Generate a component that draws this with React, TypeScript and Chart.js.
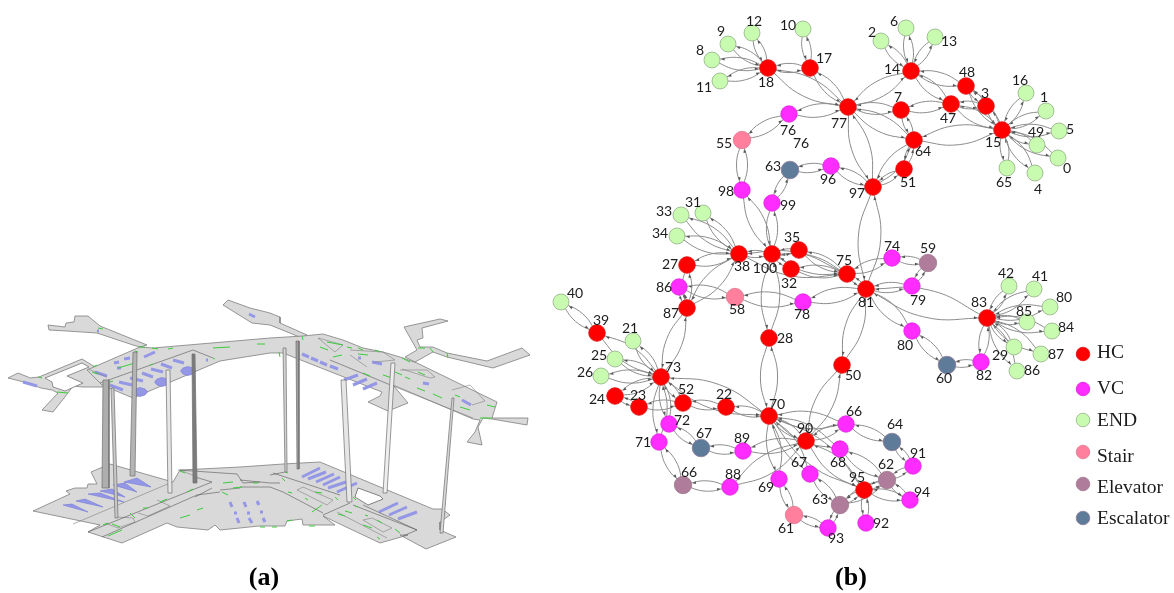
import React, { useEffect, useRef } from "react";
import { Chart, registerables } from "chart.js";

Chart.register(...registerables);

type P = [number, number];
type N = [string, number, number];

// ---------- network (b): nodes [key, x, y] ----------
const hcNodes: N[] = [
  ["18", 768, 68], ["17", 810, 68], ["77", 848, 107], ["14", 911, 71], ["48", 966, 86], ["7", 901, 110],
  ["47", 951, 104], ["3", 986, 106], ["15", 1002, 130], ["64", 914, 140], ["51", 904, 169], ["97", 873, 187],
  ["38", 739, 254], ["100", 772, 254], ["35", 799, 250], ["32", 791, 269], ["75", 847, 274], ["27", 687, 265],
  ["87", 687, 308], ["81", 866, 289], ["83", 987, 318], ["28", 769, 338], ["50", 842, 365], ["39", 597, 333],
  ["73", 661, 377], ["24", 615, 396], ["23", 639, 407], ["52", 683, 403], ["22", 726, 407], ["70", 769, 416],
  ["90", 806, 441], ["95", 864, 490],
];
const vcNodes: N[] = [
  ["76", 789, 114], ["96", 831, 166], ["98", 742, 190], ["99", 772, 203], ["86", 679, 287], ["78", 803, 302],
  ["74", 892, 258], ["79", 912, 286], ["80", 912, 331], ["82", 981, 362], ["72", 669, 424], ["71", 659, 442],
  ["89", 743, 451], ["66", 846, 424], ["68", 840, 449], ["88", 730, 487], ["69", 779, 479], ["67", 810, 474],
  ["93", 828, 528], ["92", 866, 523], ["94", 910, 500], ["91", 913, 466],
];
const endNodes: N[] = [
  ["e9", 728, 44], ["e12", 752, 33], ["e10", 803, 29], ["e8", 712, 60], ["e11", 720, 81], ["e33", 681, 215],
  ["e31", 703, 213], ["e34", 677, 236], ["e2", 881, 41], ["e6", 906, 28], ["e13", 935, 37], ["e16", 1026, 93],
  ["e1", 1046, 111], ["e5", 1059, 131], ["e49", 1037, 145], ["e0", 1058, 158], ["e4", 1035, 173], ["e65", 1007, 168],
  ["e40", 561, 302], ["e21", 633, 341], ["e25", 615, 359], ["e26", 601, 376], ["e42", 1009, 286], ["e41", 1034, 289],
  ["e80", 1050, 307], ["e85", 1027, 322], ["e84", 1052, 331], ["e29", 1014, 347], ["e87", 1041, 354], ["e86", 1017, 371],
];
const stairNodes: N[] = [["55", 742, 140], ["58", 735, 297], ["61", 794, 515]];
const elevatorNodes: N[] = [["59", 928, 263], ["a66", 683, 485], ["62", 887, 480], ["63", 840, 505]];
const escalatorNodes: N[] = [["s63", 790, 170], ["s67", 701, 448], ["60", 947, 365], ["s64", 892, 442]];

const nodeEdges: [string, string][] = [
  ["18", "e9"], ["18", "e12"], ["18", "e8"], ["18", "e11"], ["18", "17"], ["17", "e10"], ["18", "77"], ["17", "77"],
  ["77", "76"], ["76", "55"], ["55", "98"], ["98", "100"], ["s63", "96"], ["s63", "99"], ["96", "97"], ["99", "100"],
  ["77", "97"], ["77", "14"], ["77", "7"], ["77", "64"], ["14", "e2"], ["14", "e6"], ["14", "e13"], ["14", "48"],
  ["14", "47"], ["7", "47"], ["7", "64"], ["47", "3"], ["47", "15"], ["48", "3"], ["48", "15"], ["3", "15"], ["64", "15"],
  ["64", "51"], ["64", "97"], ["51", "97"], ["15", "e16"], ["15", "e1"], ["15", "e5"], ["15", "e49"], ["15", "e0"],
  ["15", "e4"], ["15", "e65"], ["38", "e31"], ["38", "e33"], ["38", "e34"], ["38", "27"], ["38", "100"], ["38", "87"],
  ["27", "87"], ["38", "75"], ["100", "35"], ["100", "32"], ["100", "28"], ["35", "75"], ["32", "75"], ["100", "75"],
  ["75", "81"], ["75", "74"], ["74", "59"], ["59", "79"], ["79", "81"], ["81", "78"], ["78", "58"], ["58", "86"],
  ["86", "87"], ["87", "73"], ["81", "97"], ["81", "83"], ["81", "80"], ["80", "60"], ["60", "82"], ["82", "83"],
  ["83", "e42"], ["83", "e41"], ["83", "e80"], ["83", "e85"], ["83", "e84"], ["83", "e29"], ["83", "e87"], ["83", "e86"],
  ["28", "70"], ["81", "50"], ["50", "90"], ["e40", "39"], ["39", "73"], ["e21", "73"], ["e25", "73"], ["e26", "73"],
  ["24", "73"], ["24", "23"], ["23", "52"], ["52", "73"], ["52", "22"], ["22", "70"], ["73", "70"], ["73", "72"],
  ["73", "71"], ["72", "s67"], ["s67", "89"], ["89", "90"], ["88", "90"], ["a66", "88"], ["71", "a66"], ["70", "66"],
  ["70", "90"], ["70", "68"], ["70", "69"], ["70", "67"], ["70", "95"], ["90", "66"], ["90", "95"], ["66", "s64"],
  ["s64", "91"], ["91", "62"], ["62", "94"], ["94", "95"], ["95", "92"], ["95", "62"], ["63", "67"], ["63", "62"],
  ["63", "93"], ["63", "95"], ["61", "69"], ["61", "93"], ["68", "62"],
];

const nodeLabels: [string, number, number][] = [
  ["12", 754, 21], ["9", 721, 31], ["8", 700, 50], ["11", 704, 87], ["18", 766, 82], ["10", 788, 25], ["17", 824, 58],
  ["76", 788, 130], ["76", 801, 143], ["77", 839, 123], ["55", 724, 143], ["63", 773, 166], ["96", 828, 179], ["98", 726, 191],
  ["99", 788, 205], ["97", 857, 193], ["31", 693, 202], ["33", 664, 211], ["34", 660, 233], ["35", 792, 237], ["27", 670, 264],
  ["38", 742, 266], ["100", 765, 268], ["32", 789, 283], ["75", 844, 260], ["86", 664, 287], ["6", 894, 21], ["2", 872, 32],
  ["13", 949, 41], ["14", 892, 69], ["48", 967, 72], ["16", 1020, 80], ["1", 1044, 97], ["3", 985, 93], ["7", 898, 97],
  ["47", 948, 118], ["5", 1070, 129], ["49", 1036, 132], ["15", 993, 142], ["64", 923, 151], ["0", 1067, 168], ["51", 908, 182],
  ["65", 1004, 182], ["4", 1038, 189], ["74", 892, 246], ["59", 928, 248], ["42", 1006, 273], ["41", 1040, 276], ["40", 575, 293],
  ["39", 601, 320], ["21", 630, 328], ["25", 599, 355], ["26", 585, 372], ["73", 673, 367], ["52", 686, 389], ["23", 638, 395],
  ["24", 597, 399], ["22", 724, 394], ["70", 777, 404], ["72", 682, 420], ["71", 643, 442], ["67", 704, 433], ["89", 742, 438],
  ["90", 805, 428], ["66", 689, 472], ["88", 733, 474], ["66", 854, 411], ["68", 838, 462], ["67", 799, 462], ["69", 766, 487],
  ["63", 820, 499], ["61", 786, 528], ["93", 836, 538], ["58", 737, 309], ["78", 802, 314], ["87", 671, 313], ["28", 785, 338],
  ["50", 853, 375], ["81", 866, 302], ["79", 918, 300], ["80", 905, 345], ["60", 944, 378], ["82", 984, 375], ["83", 979, 302],
  ["85", 1024, 311], ["80", 1064, 297], ["84", 1066, 327], ["29", 1000, 355], ["87", 1056, 354], ["86", 1032, 370],
  ["64", 895, 424], ["91", 918, 453], ["62", 886, 464], ["95", 857, 477], ["94", 922, 492], ["92", 881, 523],
];

const legendNames = ["HC", "VC", "END", "Stair", "Elevator", "Escalator"];
const legendMarkY = [354, 389, 420, 452, 484, 518];
const legendTextY = [353, 389, 421, 457, 488, 519];
const legendColors = ["#ff0000", "#ff2cff", "#c8fbb0", "#ff7f9c", "#b07c9b", "#5f7b9a"];
const legendBorders = ["#e01010", "#e020e0", "#93b088", "#e07a92", "#a07890", "#8a7a96"];

const captions: [string, number, number][] = [["(a)", 264, 578], ["(b)", 851, 578]];

// ---------- floor plan (a) ----------
const upperWingA: P[] = [[48,325],[65,327],[66,323],[74,322],[75,316],[88,316],[100,326],[147,345],[140,347],[133,345],[97,333],[67,331],[49,330]];
const upperWingB: P[] = [[8,378],[18,373],[28,377],[30,378],[39,377],[82,359],[95,367],[107,372],[110,385],[103,387],[83,387],[73,386],[68,393],[53,412],[42,410],[58,393],[52,390],[41,388],[28,383]];
const upperHoleB: P[] = [[45,378],[82,363],[89,367],[67,376],[83,383],[65,391],[53,387],[52,382]];
const upperWingC: P[] = [[223,305],[228,300],[250,308],[270,313],[280,317],[280,323],[307,335],[302,338],[270,325],[252,323]];
const upperWingD: P[] = [[404,327],[440,319],[448,321],[422,328],[423,338],[417,340],[420,347],[433,347],[447,353],[487,361],[522,348],[530,355],[493,368],[447,357],[433,352],[415,362],[405,357],[417,350]];
const upperMain: P[] = [[102,385],[87,370],[140,347],[153,348],[270,338],[303,336],[323,334],[343,340],[363,348],[383,352],[400,357],[417,363],[497,402],[492,418],[528,418],[527,425],[492,419],[483,418],[478,427],[482,445],[467,442],[475,432],[480,420],[473,419],[393,385],[408,403],[388,411],[368,402],[380,396],[382,392],[283,353],[270,353],[220,361],[133,398]];
const lowerMain: P[] = [[33,511],[70,494],[66,491],[75,488],[87,488],[88,484],[97,484],[91,472],[110,464],[173,482],[180,470],[240,467],[283,464],[320,462],[433,509],[442,509],[450,515],[440,522],[440,530],[456,537],[426,549],[400,535],[408,535],[380,543],[323,516],[335,525],[303,525],[302,519],[287,521],[285,526],[259,526],[240,528],[220,530],[215,525],[208,530],[177,527],[167,523],[122,543],[88,532],[100,525]];
const lowerHole: P[] = [[358,488],[380,496],[383,499],[368,505],[355,497]];
const shafts: P[][] = [
  [[103,380],[109,380],[109,488],[102,488]], [[111,388],[114,388],[118,518],[115,518]],
  [[133,352],[137,352],[135,476],[130,476]], [[166,370],[170,370],[172,493],[168,493]],
  [[192,354],[195,354],[197,483],[193,483]], [[283,348],[286,348],[287,472],[285,472]],
  [[296,341],[299,341],[299,469],[297,469]], [[341,380],[346,380],[352,502],[347,502]],
  [[391,363],[395,363],[387,493],[383,493]], [[452,398],[454,398],[443,533],[440,533]],
];
const shaftFills = ["#aeaeae", "#c8c8c8", "#b4b4b4", "#e6e6e6", "#7c7c7c", "#d2d2d2", "#a0a0a0", "#e6e6e6", "#eeeeee", "#d8d8d8"];
const blueWedges: P[][] = [
  [[63,505],[72,504],[88,512]], [[76,501],[85,499],[103,507]], [[88,494],[100,493],[124,502]],
  [[100,491],[112,489],[125,497]], [[113,485],[125,483],[137,492]], [[124,482],[137,478],[151,487]],
  [[132.5,392],[135,389],[140,387.5],[145,389],[147.5,392],[145,395],[140,396.5],[135,395]],
  [[154.5,382],[157,379],[162,377.5],[167,379],[169.5,382],[167,385],[162,386.5],[157,385]],
  [[180.5,371],[183,368],[188,366.5],[193,368],[195.5,371],[193,374],[188,375.5],[183,374]],
];
const blueBars: (P | null)[] = [
  [23,382],[37,386],null,[95,372],[107,376],null,[110,385],[123,390],null,[119,382],[132,385],null,[130,378],[143,381],null,
  [142,373],[153,377],null,[151,369],[163,372],null,[161,364],[172,368],null,[173,360],[184,363],null,[144,357],[155,352],null,
  [114,363],[119,362],null,[124,359],[130,358],null,[97,331],[99,331],null,[249,314],[255,317],null,[206,360],[208,360],null,
  [117,368],[121,368],null,[302,354],[309,357],null,[311,358],[318,361],null,[320,362],[327,365],null,[330,366],[338,369],null,
  [372,362],[382,364],null,[344,380],[358,375],null,[353,385],[367,379],null,[363,389],[377,383],null,[423,383],[429,384],null,
  [462,400],[471,405],null,[358,358],[361,358],null,
  [230,502],[232,507],null,[244,502],[246,507],null,[257,501],[259,505],null,[234,513],[237,513],null,[247,513],[250,513],null,
  [260,512],[263,512],null,[237,518],[239,523],null,[249,518],[252,523],null,[263,518],[265,522],null,
  [302,477],[320,468],null,[308,479],[326,472],null,[316,482],[334,474],null,[323,485],[340,477],null,[328,488],[346,482],null,
  [337,492],[357,483],null,[379,512],[398,503],null,[389,515],[407,507],null,[398,519],[417,512],
];
const greenDashes: (P | null)[] = [
  [139,347],[145,347],null,[152,348],[158,349],null,[168,349],[173,348],null,[213,348],[230,347],null,[257,344],[265,344],null,
  [38,377],[42,378],null,[57,392],[68,393],null,[93,367],[97,365],null,[118,368],[135,363],null,[92,372],[98,374],null,[150,365],[153,364],null,
  [213,358],[215,359],null,[110,382],[113,381],null,[98,328],[103,329],null,[135,351],[138,352],null,[302,336],[303,340],null,[320,347],[328,350],null,
  [327,342],[343,345],null,[279,352],[280,357],null,[347,347],[352,348],null,[358,348],[363,350],null,[333,357],[342,355],null,[358,354],[368,355],null,
  [375,350],[380,352],null,[402,358],[410,362],null,[418,348],[425,348],null,[430,348],[433,352],null,[447,353],[448,358],null,[418,372],[425,375],null,
  [383,375],[392,378],null,[395,372],[402,375],null,[405,377],[410,379],null,[417,388],[425,391],null,[433,394],[442,398],null,[460,407],[470,410],null,
  [455,395],[460,397],null,[487,405],[495,407],null,[480,418],[492,418],null,[363,373],[370,376],null,[180,471],[185,473],null,[193,478],[196,482],null,
  [160,502],[167,499],null,[187,492],[193,489],null,[223,483],[233,482],null,[143,508],[148,508],null,[130,513],[135,518],null,[112,524],[120,527],null,
  [103,525],[108,523],null,[108,536],[122,530],null,[180,518],[190,515],null,[197,510],[203,508],null,[222,492],[228,495],null,[233,488],[242,487],null,
  [260,527],[265,527],null,[272,527],[277,527],null,[287,521],[292,520],null,[309,526],[315,526],null,[282,478],[285,481],null,[285,472],[288,473],null,
  [315,492],[322,493],null,[288,492],[292,493],null,[305,498],[308,500],null,[312,512],[322,505],null,[335,497],[338,500],null,[353,497],[356,500],null,
  [345,511],[352,513],null,[355,506],[358,507],null,[338,514],[345,516],null,[363,525],[372,528],null,[365,515],[368,516],null,[377,520],[382,523],null,
  [395,529],[400,533],null,[377,537],[380,539],null,[440,533],[442,532],null,[253,483],[258,483],
];
const darkLines: (P | null)[] = [
  [100,383],[193,350],null,[193,350],[213,358],null,[330,360],[393,386],null,[102,537],[197,495],null,[197,495],[220,492],null,
  [88,532],[212,482],null,[212,482],[195,477],null,[212,488],[195,497],null,[178,470],[237,474],null,[237,474],[243,483],null,
  [243,483],[260,482],null,[220,490],[240,488],null,[273,473],[340,495],null,[270,475],[285,472],null,[240,480],[270,483],null,
  [270,483],[280,483],null,[240,487],[270,487],null,[270,487],[283,492],null,[283,492],[323,513],null,[323,515],[350,503],null,
  [353,505],[417,530],null,[363,505],[417,530],null,[417,530],[403,536],
];
const grayLines: (P | null)[] = [
  [88,369],[107,377],null,[393,386],[473,418],null,[350,355],[367,367],null,[452,390],[470,385],[485,401],[472,405],null,
  [400,370],[427,370],[435,377],[430,378],[402,369],null,[73,524],[170,483],null,[138,513],[148,516],[170,506],[157,500],null,
  [117,517],[133,518],[135,522],[118,528],[105,523],null,[337,512],[387,538],null,[297,490],[303,487],[333,500],[327,505],[297,490],null,
  [363,520],[372,518],[392,528],[383,532],[363,520],null,[318,338],[343,345],[335,352],[318,338],null,[350,350],[383,352],[395,360],[375,362],null,
  [180,470],[197,477],
];

const toXY = ([x, y]: P) => ({ x, y });
const toXYGap = (p: P | null) => (p ? toXY(p) : { x: NaN, y: NaN });

const allNodes = [...hcNodes, ...vcNodes, ...endNodes, ...stairNodes, ...elevatorNodes, ...escalatorNodes];
const nodeByKey = new Map(allNodes.map((n) => [n[0], n]));

const arc = (a: string, b: string) => {
  const p = nodeByKey.get(a)!;
  const q = nodeByKey.get(b)!;
  const dx = q[1] - p[1];
  const dy = q[2] - p[2];
  const len = Math.hypot(dx, dy) || 1;
  const bow = Math.max(2.5, Math.min(15, len * 0.11));
  return [
    { x: p[1], y: p[2] },
    { x: (p[1] + q[1]) / 2 - (dy / len) * bow, y: (p[2] + q[2]) / 2 + (dx / len) * bow },
    { x: q[1], y: q[2] },
  ];
};

const polygon = (pts: P[], fillColor: string, border: string, order: number, width = 0.8) => ({
  type: "line" as const,
  data: pts.concat([pts[0]]).map(toXY),
  polyColor: fillColor,
  borderColor: border,
  borderWidth: width,
  pointRadius: 0,
  fill: false,
  tension: 0,
  order,
});

const strokes = (pts: (P | null)[], color: string, width: number, order: number) => ({
  type: "line" as const,
  data: pts.map(toXYGap),
  borderColor: color,
  borderWidth: width,
  pointRadius: 0,
  spanGaps: false,
  fill: false,
  tension: 0,
  order,
});

const nodeSet = (nodes: N[], i: number, r: number) => ({
  type: "scatter" as const,
  data: nodes.map((n) => ({ x: n[1], y: n[2] })),
  backgroundColor: legendColors[i],
  borderColor: legendBorders[i],
  borderWidth: 0.8,
  pointRadius: r,
  pointHoverRadius: r,
  showLine: false,
  order: 1,
});

const polygonFill = {
  id: "polygonFill",
  beforeDatasetDraw(chart: any, args: any) {
    const ds = chart.data.datasets[args.index];
    if (!ds.polyColor) return;
    const pts = chart.getDatasetMeta(args.index).data;
    const ctx = chart.ctx;
    ctx.save();
    ctx.beginPath();
    pts.forEach((p: any, i: number) => (i ? ctx.lineTo(p.x, p.y) : ctx.moveTo(p.x, p.y)));
    ctx.closePath();
    ctx.fillStyle = ds.polyColor;
    ctx.fill();
    ctx.restore();
  },
};

const arrowHeads = {
  id: "arrowHeads",
  afterDatasetDraw(chart: any, args: any) {
    const ds = chart.data.datasets[args.index];
    if (!ds.isEdge) return;
    const pts = chart.getDatasetMeta(args.index).data;
    const end = pts[2];
    const ctx = chart.ctx;
    let ux = end.cp1x - end.x;
    let uy = end.cp1y - end.y;
    const l = Math.hypot(ux, uy) || 1;
    ux /= l;
    uy /= l;
    const r = ds.endRadius + 1;
    const tx = end.x + ux * r;
    const ty = end.y + uy * r;
    const bx = tx + ux * 3.6;
    const by = ty + uy * 3.6;
    ctx.save();
    ctx.fillStyle = "#555555";
    ctx.beginPath();
    ctx.moveTo(tx, ty);
    ctx.lineTo(bx - uy * 1.4, by + ux * 1.4);
    ctx.lineTo(bx + uy * 1.4, by - ux * 1.4);
    ctx.closePath();
    ctx.fill();
    ctx.restore();
  },
};

const textLayer = {
  id: "textLayer",
  afterDraw(chart: any) {
    const { ctx, scales } = chart;
    const X = (v: number) => scales.x.getPixelForValue(v);
    const Y = (v: number) => scales.y.getPixelForValue(v);
    ctx.save();
    ctx.textBaseline = "middle";
    ctx.textAlign = "center";
    ctx.fillStyle = "#1c1c1c";
    ctx.font = '14px Lato, "Open Sans", sans-serif';
    nodeLabels.forEach(([t, x, y]) => ctx.fillText(t, X(x), Y(y)));
    ctx.textAlign = "left";
    ctx.font = '19.5px "Liberation Serif", serif';
    legendNames.forEach((t, i) => ctx.fillText(t, X(1097), Y(legendTextY[i])));
    ctx.textAlign = "center";
    ctx.fillStyle = "#000000";
    ctx.font = 'bold 26px "Liberation Serif", serif';
    captions.forEach(([t, x, y]) => ctx.fillText(t, X(x), Y(y)));
    ctx.restore();
  },
};

export default function App() {
  const ref = useRef<HTMLCanvasElement>(null);
  useEffect(() => {
    const edgeSets = nodeEdges.flatMap(([a, b]) =>
      [[a, b], [b, a]].map(([s, t]) => ({
        type: "line" as const,
        data: arc(s, t),
        isEdge: true,
        endRadius: t.startsWith("e") ? 8 : 8.5,
        borderColor: "#8c8c8c",
        borderWidth: 1,
        pointRadius: 0,
        tension: 0.45,
        fill: false,
        order: 3,
      }))
    );
    const chart = new Chart(ref.current!, {
      type: "scatter",
      data: {
        datasets: [
          nodeSet(hcNodes, 0, 8.3),
          nodeSet(vcNodes, 1, 8.2),
          nodeSet(endNodes, 2, 8),
          nodeSet(stairNodes, 3, 8.7),
          nodeSet(elevatorNodes, 4, 8.7),
          nodeSet(escalatorNodes, 5, 8.8),
          {
            type: "scatter" as const,
            data: legendMarkY.map((y) => ({ x: 1083, y })),
            backgroundColor: legendColors,
            borderColor: legendBorders,
            borderWidth: 0.8,
            pointRadius: 6.8,
            pointHoverRadius: 6.8,
            order: 1,
          },
          ...edgeSets,
          ...shafts.map((s, i) => polygon(s, shaftFills[i], "#6f6f6f", 8, 0.7)),
          strokes(greenDashes, "#3ccc3c", 1, 9),
          strokes(darkLines, "#555555", 0.6, 9),
          strokes(grayLines, "#808080", 0.6, 9),
          strokes(blueBars, "#9497e6", 3, 9),
          ...blueWedges.map((w) => polygon(w, "#9497e6", "#7478d8", 9, 0.6)),
          polygon(lowerHole, "#ffffff", "#666666", 10),
          polygon(upperHoleB, "#ffffff", "#777777", 10),
          polygon(upperMain, "#d9d9d9", "#7f7f7f", 11),
          polygon(upperWingA, "#d9d9d9", "#7f7f7f", 11),
          polygon(upperWingB, "#d9d9d9", "#7f7f7f", 11),
          polygon(upperWingC, "#d9d9d9", "#7f7f7f", 11),
          polygon(upperWingD, "#d9d9d9", "#7f7f7f", 11),
          polygon(lowerMain, "#d9d9d9", "#7f7f7f", 11),
        ] as any,
      },
      options: {
        animation: false,
        responsive: false,
        devicePixelRatio: 1,
        layout: { padding: 0, autoPadding: false },
        plugins: { legend: { display: false }, tooltip: { enabled: false } },
        scales: {
          x: { type: "linear", min: 0, max: 1174, display: false },
          y: { type: "linear", min: 0, max: 593, reverse: true, display: false },
        },
      },
      plugins: [polygonFill, arrowHeads, textLayer],
    });
    return () => chart.destroy();
  }, []);
  return (
    <div style={{ position: "fixed", left: 0, top: 0, width: 1174, height: 593, background: "#fff" }}>
      <canvas ref={ref} width={1174} height={593} style={{ display: "block" }} />
    </div>
  );
}
